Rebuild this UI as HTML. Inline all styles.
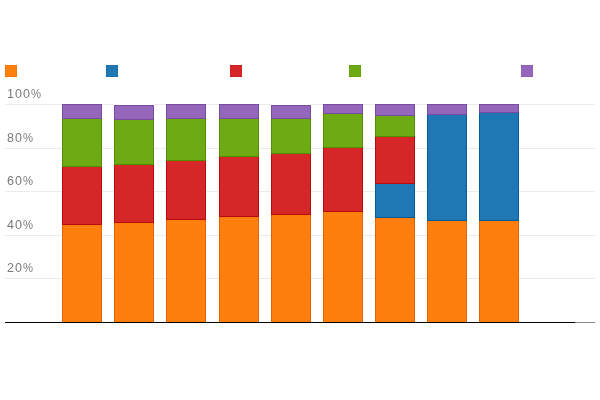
<!DOCTYPE html>
<html>
<head>
<meta charset="utf-8">
<title>Chart</title>
<style>
html,body{margin:0;padding:0;background:#fff;}
body{width:600px;height:400px;overflow:hidden;position:relative;font-family:"Liberation Sans",sans-serif;}
svg{position:absolute;left:0;top:0;display:block;}
.lbl{position:absolute;left:7px;color:#7a7a7a;font-size:12.5px;line-height:14px;letter-spacing:1.1px;white-space:nowrap;will-change:transform;}
.pc{display:inline-block;transform:scaleX(0.9);transform-origin:0 50%;letter-spacing:0;}
</style>
</head>
<body>
<svg width="600" height="400" viewBox="0 0 600 400">
<rect x="5" y="104" width="590" height="1" fill="#ebebeb"/>
<rect x="5" y="148" width="590" height="1" fill="#ebebeb"/>
<rect x="5" y="191" width="590" height="1" fill="#ebebeb"/>
<rect x="5" y="235" width="590" height="1" fill="#ebebeb"/>
<rect x="5" y="278" width="590" height="1" fill="#ebebeb"/>
<svg x="5" y="65" width="12" height="12" overflow="hidden"><rect x="0" y="0" width="12" height="12" fill="#ff7f0e" stroke="#e36300" stroke-width="1" stroke-opacity="0.45"/></svg>
<svg x="106" y="65" width="12" height="12" overflow="hidden"><rect x="0" y="0" width="12" height="12" fill="#1f77b4" stroke="#035b98" stroke-width="1" stroke-opacity="0.45"/></svg>
<svg x="230" y="65" width="12" height="12" overflow="hidden"><rect x="0" y="0" width="12" height="12" fill="#d62728" stroke="#ba0b0c" stroke-width="1" stroke-opacity="0.45"/></svg>
<svg x="349" y="65" width="12" height="12" overflow="hidden"><rect x="0" y="0" width="12" height="12" fill="#6daa13" stroke="#518e00" stroke-width="1" stroke-opacity="0.45"/></svg>
<svg x="521" y="65" width="12" height="12" overflow="hidden"><rect x="0" y="0" width="12" height="12" fill="#9467bd" stroke="#784ba1" stroke-width="1" stroke-opacity="0.45"/></svg>
<rect x="62" y="104" width="40" height="218" fill="#fff"/>
<rect x="62.5" y="224.50" width="39" height="98.00" fill="#ff7f0e" stroke="#e36300" stroke-width="1"/>
<rect x="62.5" y="166.50" width="39" height="58.00" fill="#d62728" stroke="#ba0b0c" stroke-width="1"/>
<rect x="62.5" y="118.50" width="39" height="48.00" fill="#6daa13" stroke="#518e00" stroke-width="1"/>
<rect x="62.5" y="104.50" width="39" height="14.00" fill="#9467bd" stroke="#784ba1" stroke-width="1"/>
<rect x="114" y="104" width="40" height="218" fill="#fff"/>
<rect x="114.5" y="222.50" width="39" height="100.00" fill="#ff7f0e" stroke="#e36300" stroke-width="1"/>
<rect x="114.5" y="164.50" width="39" height="58.00" fill="#d62728" stroke="#ba0b0c" stroke-width="1"/>
<rect x="114.5" y="119.50" width="39" height="45.00" fill="#6daa13" stroke="#518e00" stroke-width="1"/>
<rect x="114.5" y="105.50" width="39" height="14.00" fill="#9467bd" stroke="#784ba1" stroke-width="1"/>
<rect x="166" y="104" width="40" height="218" fill="#fff"/>
<rect x="166.5" y="219.50" width="39" height="103.00" fill="#ff7f0e" stroke="#e36300" stroke-width="1"/>
<rect x="166.5" y="160.50" width="39" height="59.00" fill="#d62728" stroke="#ba0b0c" stroke-width="1"/>
<rect x="166.5" y="118.50" width="39" height="42.00" fill="#6daa13" stroke="#518e00" stroke-width="1"/>
<rect x="166.5" y="104.50" width="39" height="14.00" fill="#9467bd" stroke="#784ba1" stroke-width="1"/>
<rect x="219" y="104" width="40" height="218" fill="#fff"/>
<rect x="219.5" y="216.50" width="39" height="106.00" fill="#ff7f0e" stroke="#e36300" stroke-width="1"/>
<rect x="219.5" y="156.50" width="39" height="60.00" fill="#d62728" stroke="#ba0b0c" stroke-width="1"/>
<rect x="219.5" y="118.50" width="39" height="38.00" fill="#6daa13" stroke="#518e00" stroke-width="1"/>
<rect x="219.5" y="104.50" width="39" height="14.00" fill="#9467bd" stroke="#784ba1" stroke-width="1"/>
<rect x="271" y="104" width="40" height="218" fill="#fff"/>
<rect x="271.5" y="214.50" width="39" height="108.00" fill="#ff7f0e" stroke="#e36300" stroke-width="1"/>
<rect x="271.5" y="153.50" width="39" height="61.00" fill="#d62728" stroke="#ba0b0c" stroke-width="1"/>
<rect x="271.5" y="118.50" width="39" height="35.00" fill="#6daa13" stroke="#518e00" stroke-width="1"/>
<rect x="271.5" y="105.50" width="39" height="13.00" fill="#9467bd" stroke="#784ba1" stroke-width="1"/>
<rect x="323" y="104" width="40" height="218" fill="#fff"/>
<rect x="323.5" y="211.50" width="39" height="111.00" fill="#ff7f0e" stroke="#e36300" stroke-width="1"/>
<rect x="323.5" y="147.50" width="39" height="64.00" fill="#d62728" stroke="#ba0b0c" stroke-width="1"/>
<rect x="323.5" y="113.50" width="39" height="34.00" fill="#6daa13" stroke="#518e00" stroke-width="1"/>
<rect x="323.5" y="104.50" width="39" height="9.00" fill="#9467bd" stroke="#784ba1" stroke-width="1"/>
<rect x="375" y="104" width="40" height="218" fill="#fff"/>
<rect x="375.5" y="217.50" width="39" height="105.00" fill="#ff7f0e" stroke="#e36300" stroke-width="1"/>
<rect x="375.5" y="183.50" width="39" height="34.00" fill="#1f77b4" stroke="#035b98" stroke-width="1"/>
<rect x="375.5" y="136.50" width="39" height="47.00" fill="#d62728" stroke="#ba0b0c" stroke-width="1"/>
<rect x="375.5" y="115.50" width="39" height="21.00" fill="#6daa13" stroke="#518e00" stroke-width="1"/>
<rect x="375.5" y="104.50" width="39" height="11.00" fill="#9467bd" stroke="#784ba1" stroke-width="1"/>
<rect x="427" y="104" width="40" height="218" fill="#fff"/>
<rect x="427.5" y="220.50" width="39" height="102.00" fill="#ff7f0e" stroke="#e36300" stroke-width="1"/>
<rect x="427.5" y="114.50" width="39" height="106.00" fill="#1f77b4" stroke="#035b98" stroke-width="1"/>
<rect x="427.5" y="104.50" width="39" height="10.00" fill="#9467bd" stroke="#784ba1" stroke-width="1"/>
<rect x="479" y="104" width="40" height="218" fill="#fff"/>
<rect x="479.5" y="220.50" width="39" height="102.00" fill="#ff7f0e" stroke="#e36300" stroke-width="1"/>
<rect x="479.5" y="112.50" width="39" height="108.00" fill="#1f77b4" stroke="#035b98" stroke-width="1"/>
<rect x="479.5" y="104.50" width="39" height="8.00" fill="#9467bd" stroke="#784ba1" stroke-width="1"/>
<rect x="5" y="322" width="590" height="1" fill="#8a8a8a"/>
<rect x="5" y="322" width="570" height="1" fill="#000"/>
</svg>
<div class="lbl" style="top:87px">100<span class="pc">%</span></div>
<div class="lbl" style="top:131px">80<span class="pc">%</span></div>
<div class="lbl" style="top:174px">60<span class="pc">%</span></div>
<div class="lbl" style="top:218px">40<span class="pc">%</span></div>
<div class="lbl" style="top:261px">20<span class="pc">%</span></div>
</body>
</html>
